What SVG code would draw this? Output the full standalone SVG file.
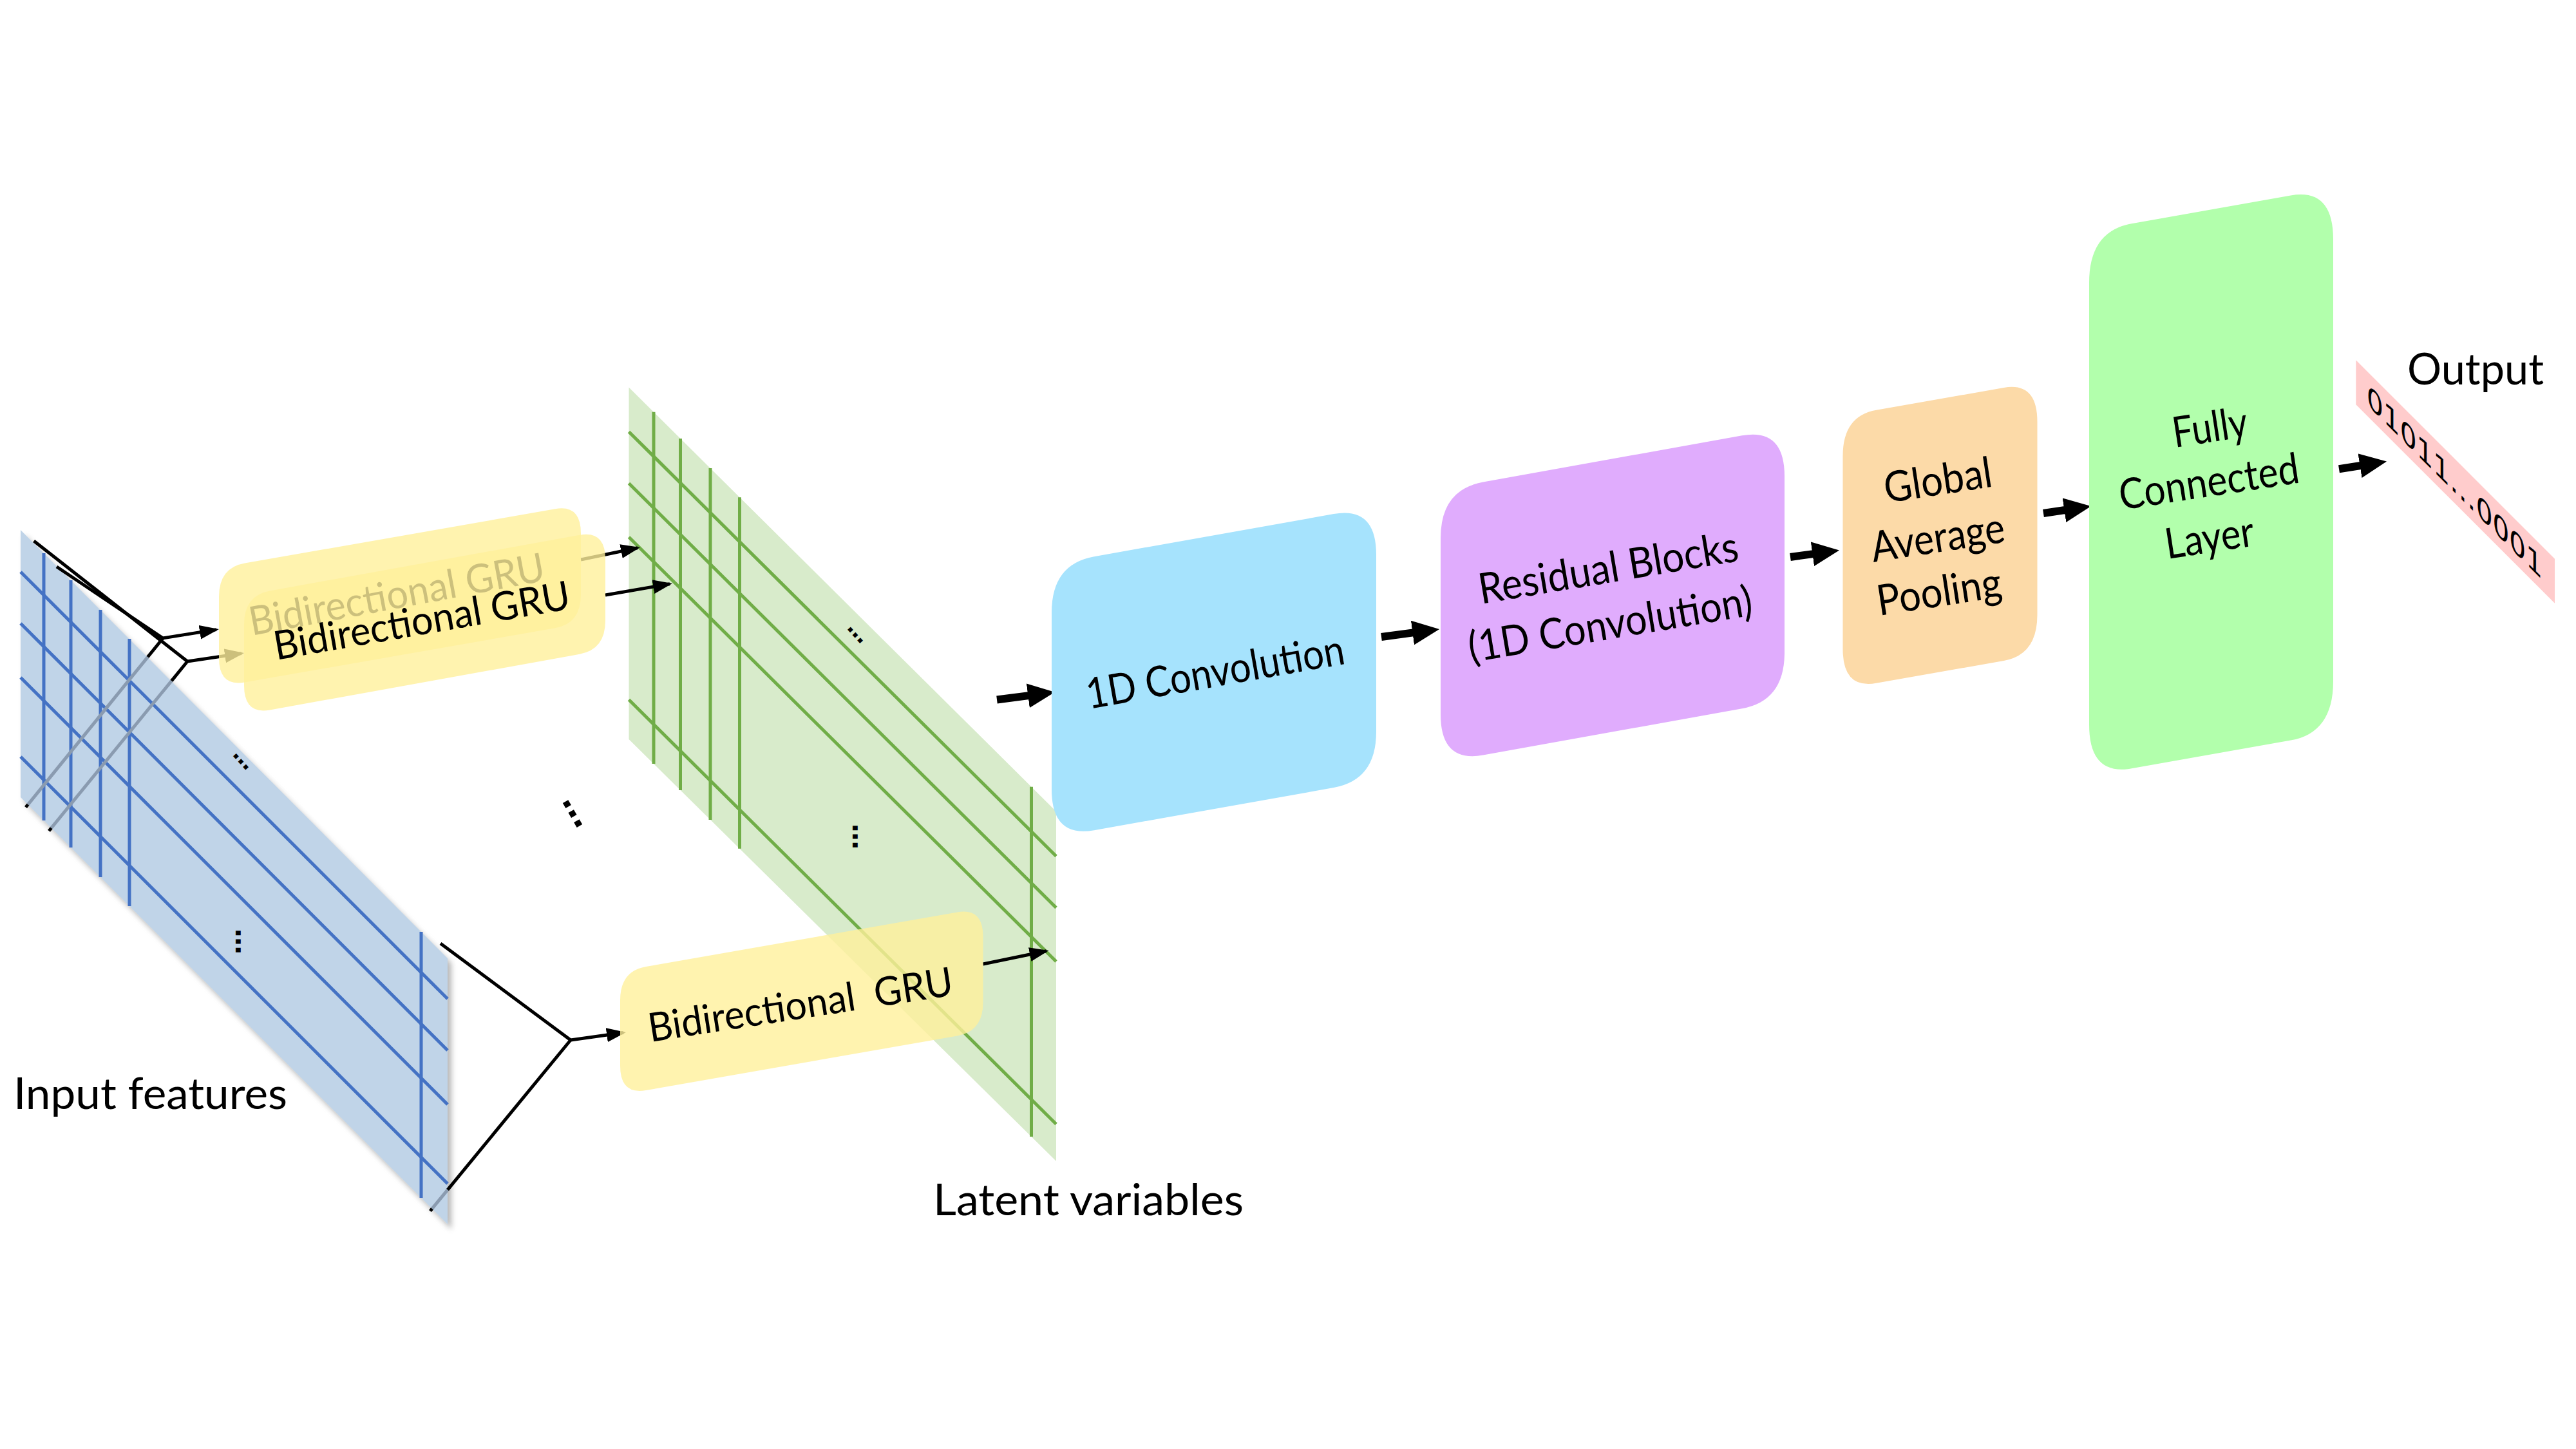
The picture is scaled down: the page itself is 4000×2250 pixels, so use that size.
<svg xmlns="http://www.w3.org/2000/svg" width="4000" height="2250" viewBox="0 0 4000 2250">
<defs>
<style>
.lbl{font-family:Lato,"Liberation Sans",sans-serif;fill:#000}
.box{font-size:66px}
.gru{font-size:62px}
.big{font-size:68px}
.dig{font-family:"DejaVu Sans",sans-serif;font-size:46px;fill:#000}
.dots{font-family:"DejaVu Sans",sans-serif;font-weight:bold;fill:#000}
.bl{stroke:#4472c4;stroke-width:5;fill:none}
.gl{stroke:#70ad47;stroke-width:5;fill:none}
.fk{stroke:#000;stroke-width:5;fill:none}
.fkg{stroke:#8a9bb0;stroke-width:5;fill:none}
.thin{stroke:#000;stroke-width:5;fill:none}
.thick{stroke:#000;stroke-width:12;fill:none}
.gru-box{fill:#fff09b;fill-opacity:0.8}
</style>
<filter id="blur" x="-10%" y="-10%" width="120%" height="120%"><feGaussianBlur stdDeviation="4"/></filter>
<marker id="ah" markerUnits="userSpaceOnUse" markerWidth="30" markerHeight="22" viewBox="0 0 30 22" refX="26" refY="11" orient="auto"><path d="M0,0 L30,11 L0,22 Z" fill="#000"/></marker>
<marker id="ahb" markerUnits="userSpaceOnUse" markerWidth="42" markerHeight="38" viewBox="0 0 42 38" refX="1" refY="19" orient="auto"><path d="M0,0 L42,19 L0,38 Z" fill="#000"/></marker>
</defs>
<rect x="0" y="0" width="4000" height="2250" fill="#fff"/>

<g id="input-features">
<polygon points="38,831 701,1496 701,1909 38,1246" fill="#7f7f7f" opacity="0.55" filter="url(#blur)"/>
<polygon points="32,823 695,1488 695,1901 32,1238" fill="#fff"/>
</g>

<g id="input-panel">
<polygon points="32,823 695,1488 695,1901 32,1238" fill="#a2bfdd" fill-opacity="0.68"/>
<line class="bl" x1="68" y1="859" x2="68" y2="1274"/>
<line class="bl" x1="110" y1="901" x2="110" y2="1316"/>
<line class="bl" x1="156" y1="947" x2="156" y2="1362"/>
<line class="bl" x1="201" y1="992" x2="201" y2="1407"/>
<line class="bl" x1="654" y1="1447" x2="654" y2="1860"/>
<line class="bl" x1="32" y1="888" x2="695" y2="1551"/>
<line class="bl" x1="32" y1="968" x2="695" y2="1631"/>
<line class="bl" x1="32" y1="1052" x2="695" y2="1715"/>
<line class="bl" x1="32" y1="1175" x2="695" y2="1838"/>
<text class="dots" font-size="34" text-anchor="middle" transform="translate(373,1183.5) rotate(48)" y="2">…</text>
<text class="dots" font-size="40" text-anchor="middle" transform="translate(368,1462) rotate(90)" y="2">…</text>
</g>

<g id="latent-panel">
<polygon points="976.5,601.5 1640,1260 1640,1803 976.5,1148" fill="#d8ebcb"/>
<line class="gl" x1="1015" y1="639.7" x2="1015" y2="1186"/>
<line class="gl" x1="1056.5" y1="680.9" x2="1056.5" y2="1227"/>
<line class="gl" x1="1103" y1="727.1" x2="1103" y2="1272.9"/>
<line class="gl" x1="1148.5" y1="772.2" x2="1148.5" y2="1317.8"/>
<line class="gl" x1="1601.5" y1="1221.8" x2="1601.5" y2="1764.9"/>
<line class="gl" x1="976.5" y1="670.4" x2="1640" y2="1329.4"/>
<line class="gl" x1="976.5" y1="750.5" x2="1640" y2="1409.5"/>
<line class="gl" x1="976.5" y1="834" x2="1640" y2="1493"/>
<line class="gl" x1="976.5" y1="1086.5" x2="1640" y2="1745.5"/>
<text class="dots" font-size="34" text-anchor="middle" transform="translate(1327,987) rotate(48)" y="2">…</text>
<text class="dots" font-size="40" text-anchor="middle" transform="translate(1326,1299) rotate(90)" y="2">…</text>
</g>

<g id="connectors">
<polyline class="fk" points="88,880 253,991 229.3,1020.3"/>
<line class="fkg" x1="229.3" y1="1020.3" x2="43.4" y2="1249.3"/>
<line class="fk" x1="43.4" y1="1249.3" x2="40" y2="1253.5"/>
<polyline class="fk" points="52.6,840 291,1027 266.3,1057.3"/>
<line class="fkg" x1="266.3" y1="1057.3" x2="79.7" y2="1285.7"/>
<line class="fk" x1="79.7" y1="1285.7" x2="76" y2="1290.3"/>
<polyline class="fk" points="684,1465 886,1615 695,1847.6"/>
<line class="fkg" x1="695" y1="1847.6" x2="670.9" y2="1876.9"/>
<line class="fk" x1="670.9" y1="1876.9" x2="668" y2="1880.5"/>
<line class="thin" x1="253" y1="991" x2="336" y2="977.6" marker-end="url(#ah)"/>
<line class="thin" x1="291" y1="1027" x2="375" y2="1014.6" marker-end="url(#ah)"/>
<line class="thin" x1="886" y1="1615" x2="968" y2="1603.6" marker-end="url(#ah)"/>
<line class="thin" x1="902" y1="869" x2="990" y2="850.8" marker-end="url(#ah)"/>
<line class="thin" x1="940" y1="924" x2="1040" y2="906.7" marker-end="url(#ah)"/>
<line class="thin" x1="1526.5" y1="1497" x2="1624.7" y2="1476.8" marker-end="url(#ah)"/>
<line class="thick" x1="1548" y1="1086.5" x2="1597.3" y2="1080.1" marker-end="url(#ahb)"/>
<line class="thick" x1="2145" y1="989" x2="2194.4" y2="982.4" marker-end="url(#ahb)"/>
<line class="thick" x1="2780" y1="865" x2="2815.4" y2="860.1" marker-end="url(#ahb)"/>
<line class="thick" x1="3173" y1="797" x2="3206.4" y2="792" marker-end="url(#ahb)"/>
<line class="thick" x1="3632" y1="728.3" x2="3665.5" y2="723" marker-end="url(#ahb)"/>
</g>

<g id="gru-back">
<path class="gru-box" d="M340,926.6 L340,1021.6 Q340,1066.6 380,1059.6 L862,975.25 Q902,968.25 902,923.25 L902,828.25 Q902,783.25 862,790.25 L380,874.6 Q340,881.6 340,926.6 Z"/>
<text class="lbl gru" x="391" y="987" textLength="466" lengthAdjust="spacingAndGlyphs" transform="rotate(-10.6 391 987)">Bidirectional GRU</text>
</g>

<g id="gru-front">
<path class="gru-box" d="M379,969.6 L379,1064.6 Q379,1109.6 419,1102.4 L900,1015.82 Q940,1008.62 940,963.62 L940,868.62 Q940,823.62 900,830.82 L419,917.4 Q379,924.6 379,969.6 Z"/>
<text class="lbl gru" x="429" y="1025" textLength="466" lengthAdjust="spacingAndGlyphs" transform="rotate(-9.9 429 1025)">Bidirectional GRU</text>
</g>

<g id="gru-bottom">
<path class="gru-box" d="M963,1553 L963,1655 Q963,1700 1003,1693 L1486.5,1608.39 Q1526.5,1601.39 1526.5,1556.39 L1526.5,1454.39 Q1526.5,1409.39 1486.5,1416.39 L1003,1501 Q963,1508 963,1553 Z"/>
<text class="lbl gru" x="1010" y="1618" textLength="478" lengthAdjust="spacingAndGlyphs" xml:space="preserve" style="white-space:pre" transform="rotate(-8.8 1010 1618)">Bidirectional  GRU</text>
</g>

<g id="gru-dots">
<text class="dots" font-size="52" text-anchor="middle" transform="translate(886.5,1265) rotate(60)" y="2">…</text>
</g>

<g id="conv1d">
<path fill="#a6e3fd" d="M1633,951 L1633,1226 Q1633,1301 1699,1289.25 L2071,1223.04 Q2137,1211.29 2137,1136.29 L2137,861.29 Q2137,786.29 2071,798.04 L1699,864.25 Q1633,876 1633,951 Z"/>
<text class="lbl box" x="1691" y="1101" textLength="406" lengthAdjust="spacingAndGlyphs" transform="rotate(-10 1691 1101)">1D Convolution</text>
</g>

<g id="residual">
<path fill="#e0acfd" d="M2237,835.5 L2237,1109.5 Q2237,1184.5 2303,1172.62 L2705,1100.26 Q2771,1088.38 2771,1013.38 L2771,739.38 Q2771,664.38 2705,676.26 L2303,748.62 Q2237,760.5 2237,835.5 Z"/>
<text class="lbl box" x="2300" y="938" textLength="408" lengthAdjust="spacingAndGlyphs" transform="rotate(-9.5 2300 938)">Residual Blocks</text>
<text class="lbl box" x="2284" y="1028.5" textLength="446" lengthAdjust="spacingAndGlyphs" transform="rotate(-9.5 2284 1028.5)">(1D Convolution)</text>
</g>

<g id="gap">
<path fill="#fcdaa8" d="M2861.5,708 L2861.5,1008 Q2861.5,1070 2913.5,1060.85 L3111.5,1026.01 Q3163.5,1016.85 3163.5,954.85 L3163.5,654.85 Q3163.5,592.85 3111.5,602.01 L2913.5,636.85 Q2861.5,646 2861.5,708 Z"/>
<text class="lbl box" x="2929" y="781" textLength="169" lengthAdjust="spacingAndGlyphs" transform="rotate(-8.7 2929 781)">Global</text>
<text class="lbl box" x="2909" y="873" textLength="209" lengthAdjust="spacingAndGlyphs" transform="rotate(-8.7 2909 873)">Average</text>
<text class="lbl box" x="2918" y="956" textLength="195" lengthAdjust="spacingAndGlyphs" transform="rotate(-8.7 2918 956)">Pooling</text>
</g>

<g id="fc">
<path fill="#b2ffac" d="M3244,439 L3244,1125 Q3244,1205 3310,1193.32 L3557,1149.6 Q3623,1137.92 3623,1057.92 L3623,371.92 Q3623,291.92 3557,303.6 L3310,347.32 Q3244,359 3244,439 Z"/>
<text class="lbl box" x="3377" y="695" textLength="117" lengthAdjust="spacingAndGlyphs" transform="rotate(-8.7 3377 695)">Fully</text>
<text class="lbl box" x="3294" y="792" textLength="282" lengthAdjust="spacingAndGlyphs" transform="rotate(-8.7 3294 792)">Connected</text>
<text class="lbl box" x="3365.5" y="868" textLength="139" lengthAdjust="spacingAndGlyphs" transform="rotate(-8.7 3365.5 868)">Layer</text>
</g>

<g id="output">
<polygon points="3658.3,559.3 3967,867.7 3967,936.7 3658.3,628.3" fill="#ffcccc"/>
<text class="dig" x="3675" y="-3047" textLength="273" lengthAdjust="spacingAndGlyphs" transform="skewY(45)">01011…0001</text>
<text class="lbl big" x="3738" y="597" textLength="212" lengthAdjust="spacingAndGlyphs">Output</text>
</g>

<g id="labels">
<text class="lbl big" x="21" y="1722" textLength="425" lengthAdjust="spacingAndGlyphs">Input features</text>
<text class="lbl big" x="1449" y="1887" textLength="482" lengthAdjust="spacingAndGlyphs">Latent variables</text>
</g>
</svg>
